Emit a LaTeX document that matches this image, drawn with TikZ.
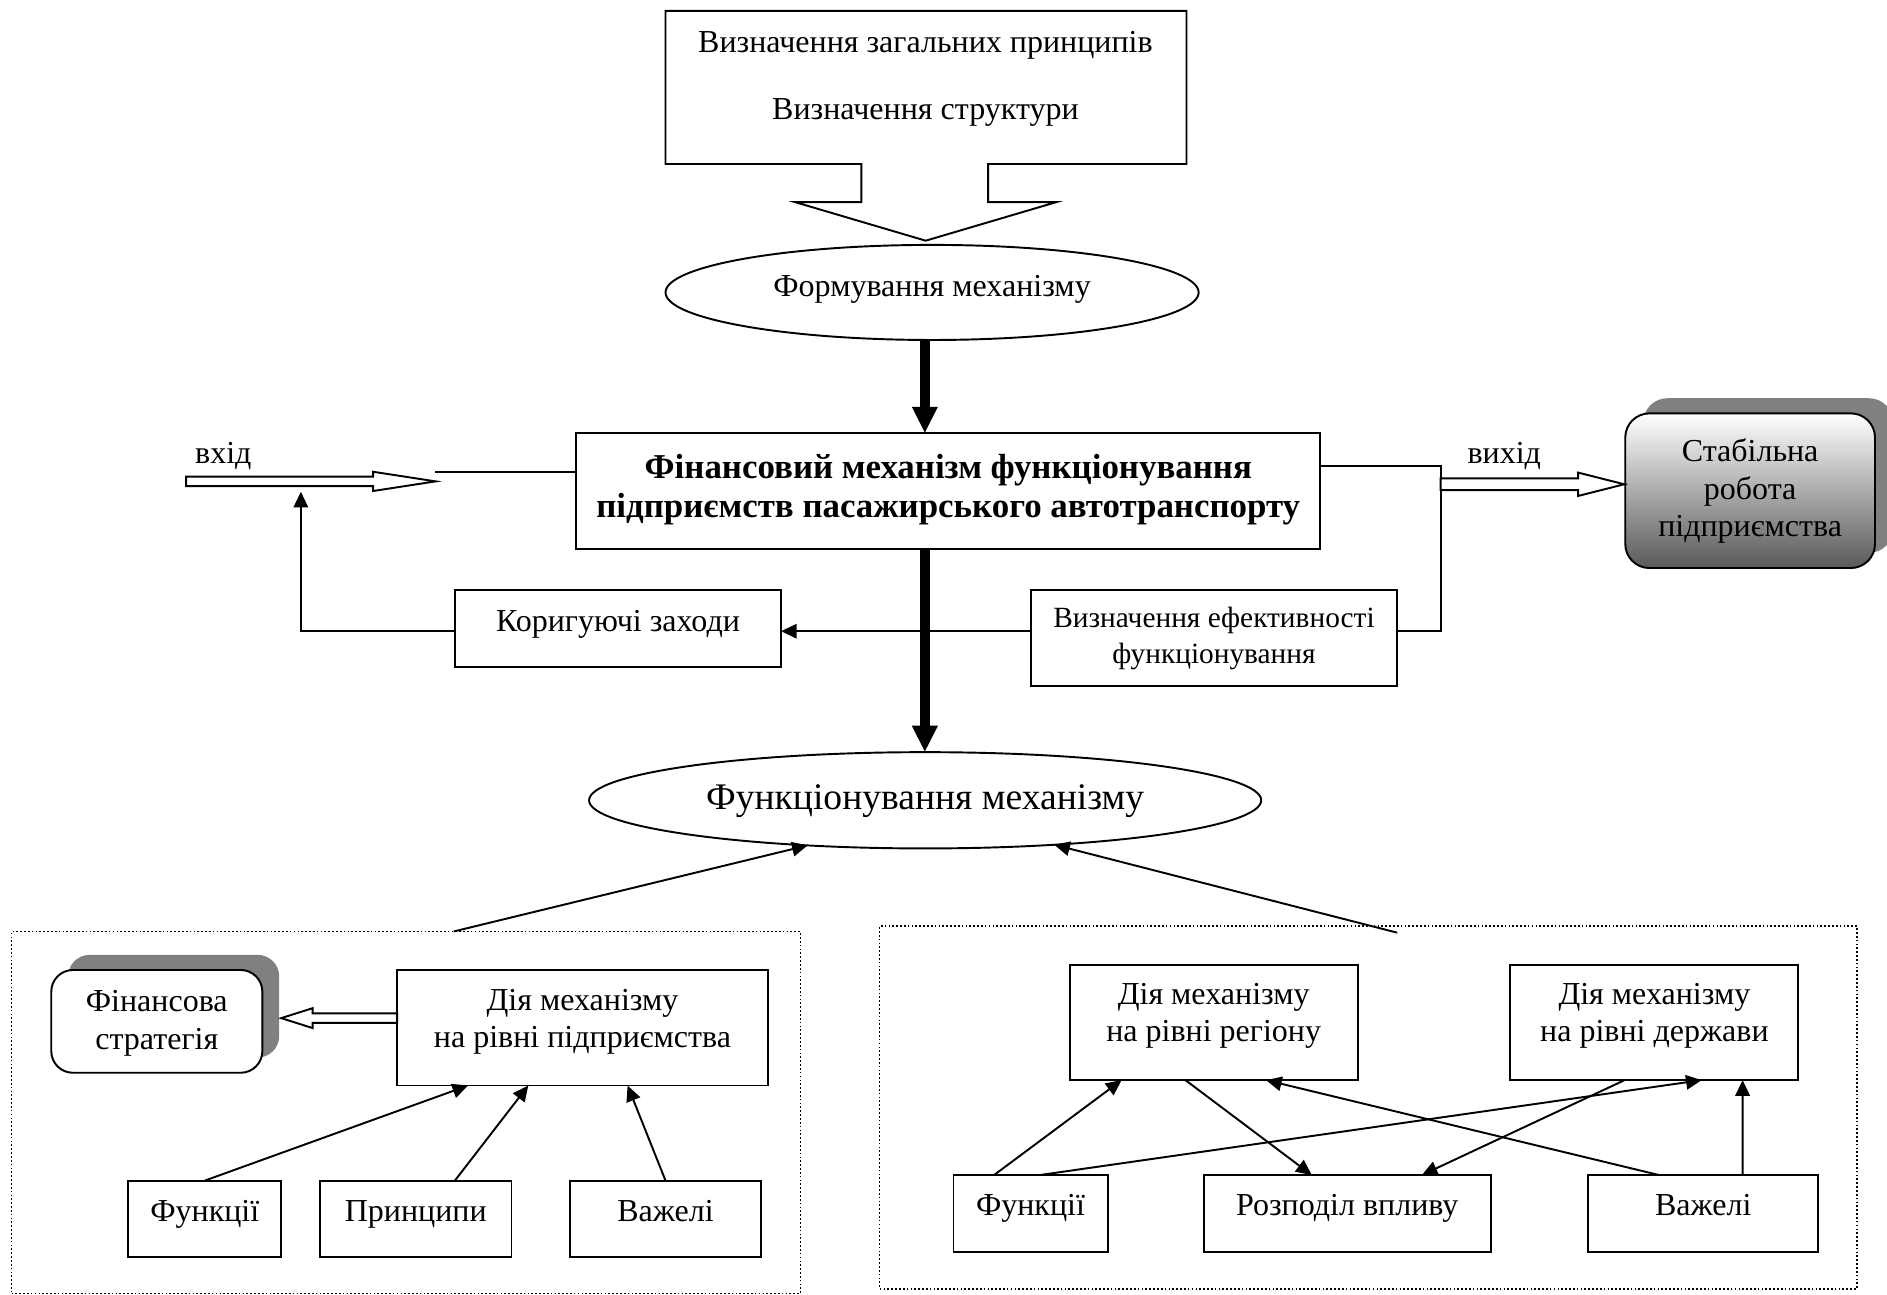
\documentclass[tikz,border=0pt]{standalone}
\usepackage{fontspec}
\setmainfont{Liberation Serif}
\usetikzlibrary{arrows.meta,shapes.geometric,shadows,calc}

\newcommand\tb[2]{\raisebox{#1}[0pt][0pt]{\begin{tabular}{@{}c@{}}#2\end{tabular}}}

\tikzset{
  box/.style={draw, line width=0.8pt, rectangle, inner sep=0pt, outer sep=0pt},
  oval/.style={draw, line width=0.8pt, ellipse, inner sep=0pt, outer sep=0pt},
  frame/.style={draw, line width=0.6pt, dash pattern=on 0.7pt off 0.9pt, inner sep=0pt, outer sep=0pt},
  arr/.style={line width=0.8pt, -{Triangle[length=6.5pt,width=6pt]}},
  bigarr/.style={line width=4pt, -{Triangle[length=11pt,width=10pt]}},
  hollow/.style={draw, line width=0.8pt, fill=white, line join=miter},
  fnt/.style={font=\fontsize{13.3}{15.5}\selectfont},
  shad/.style={drop shadow={shadow xshift=#1, shadow yshift=6.3pt, fill=black!50, opacity=1}},
}

\begin{document}
\begin{tikzpicture}[x=0.5pt,y=-0.5pt]
\useasboundingbox (0,0) rectangle (1568,1076);
\fill[white] (0,0) rectangle (1568,1076);

% top callout
\draw[line width=0.8pt, line join=miter] (553,9) -- (985.9,9) -- (985.9,136.3) -- (821,136.3) -- (821,168) -- (877.6,168) -- (769.2,200) -- (660.8,168) -- (715.8,168) -- (715.8,136.3) -- (553,136.3) -- cycle;
\node[fnt, inner sep=0pt] (top) at (769,63.5) {\tb{-4.5pt}{Визначення загальних принципів\\[12pt]Визначення структури}};

\node[oval, fnt, minimum width=221.5pt, minimum height=39.5pt] (ell1) at (774.5,243) {\tb{-2pt}{Формування механізму}};

\node[box, font=\fontsize{14.5}{16.5}\selectfont\bfseries, minimum width=309pt, minimum height=48pt] (main) at (788,408) {\tb{-3.25pt}{Фінансовий механізм функціонування\\підприємств пасажирського автотранспорту}};

\node[box, fnt, minimum width=135.5pt, minimum height=32pt] (korr) at (513.5,522) {\tb{-2pt}{Коригуючі заходи}};
\node[box, font=\fontsize{12.2}{15}\selectfont, minimum width=151.75pt, minimum height=40pt] (vyzn) at (1008.75,530) {\tb{-3pt}{Визначення ефективності\\функціонування}};

\node[draw, line width=0.8pt, rounded corners=10pt, inner sep=0pt, top color=white, bottom color=black!65, shad=7.5pt, fnt, minimum width=103.75pt, minimum height=64.25pt] (stab) at (1454.25,407.75) {\tb{-4pt}{Стабільна\\робота\\підприємства}};

\node[oval, font=\fontsize{15.6}{18}\selectfont, minimum width=279.25pt, minimum height=40pt] (ell2) at (768.75,665) {\tb{-3.8pt}{Функціонування механізму}};

\node[frame, minimum width=327.7pt, minimum height=150.5pt] (lf) at (337.3,924.5) {};
\node[frame, minimum width=406pt, minimum height=150.75pt] (rf) at (1137,920.25) {};

% left group
\node[box, fnt, fill=white, rounded corners=9pt, shad=7pt, minimum width=87.7pt, minimum height=42.7pt] (fin) at (130.3,848.7) {\tb{-4.25pt}{Фінансова\\стратегія}};
\node[box, fnt, minimum width=154pt, minimum height=48pt] (diyap) at (484,854) {\tb{-1pt}{Дія механізму\\на рівні підприємства}};
\node[box, fnt, minimum width=63.65pt, minimum height=31.9pt] (funkl) at (170.2,1012.9) {\tb{-1.6pt}{Функції}};
\node[box, fnt, minimum width=79.5pt, minimum height=31.9pt] (pryn) at (345.5,1012.9) {\tb{-1.6pt}{Принципи}};
\node[box, fnt, minimum width=79.35pt, minimum height=31.9pt] (vazhl) at (553,1012.9) {\tb{-1.6pt}{Важелі}};

% right group
\node[box, fnt, minimum width=119.7pt, minimum height=47.8pt] (diyar) at (1008.5,849.7) {\tb{-0.65pt}{Дія механізму\\на рівні регіону}};
\node[box, fnt, minimum width=119.7pt, minimum height=47.8pt] (diyad) at (1374.7,849.7) {\tb{-0.65pt}{Дія механізму\\на рівні держави}};
\node[box, fnt, minimum width=64pt, minimum height=31.8pt] (funkr) at (856.3,1008.2) {\tb{-1.25pt}{Функції}};
\node[box, fnt, minimum width=119.2pt, minimum height=31.8pt] (rozp) at (1119.5,1008.2) {\tb{-1.25pt}{Розподіл впливу}};
\node[box, fnt, minimum width=95.45pt, minimum height=31.8pt] (vazhr) at (1415.3,1008.2) {\tb{-1.25pt}{Важелі}};

% labels
\node[fnt] (vhid) at (185.6,378.5) {вхід};
\node[fnt] (vyhid) at (1250,379) {вихід};

% input
\coordinate (inS) at (154.6,400);
\coordinate (inT) at (362,400);
\draw[hollow] ($(inS)+(0,-4)$) -- ($(inT)+(-52,-4)$) -- ($(inT)+(-52,-8)$) -- (inT) -- ($(inT)+(-52,8)$) -- ($(inT)+(-52,4)$) -- ($(inS)+(0,4)$) -- cycle;
\coordinate (in1) at (361.5,392);
\draw[line width=0.8pt] (in1) -- (in1 -| main.west);

% output
\coordinate (c1) at (1197,387.2);
\coordinate (c2) at (1197,524.5);
\draw[line width=0.8pt] (main.east |- c1) -- (c1) -- (c2) -- (c2 -| vyzn.east);
\coordinate (outS) at (1197,402.4);
\coordinate (outT) at (stab.west |- outS);
\draw[hollow] ($(outS)+(0,-4.85)$) -- ($(outT)+(-38.4,-4.85)$) -- ($(outT)+(-38.4,-9.7)$) -- (outT) -- ($(outT)+(-38.4,9.7)$) -- ($(outT)+(-38.4,4.85)$) -- ($(outS)+(0,4.85)$) -- cycle;

% feedback
\draw[arr] (vyzn.west |- c2) -- (korr.east |- c2);
\coordinate (fb1) at (250,524.5);
\coordinate (fb2) at (250,408.6);
\draw[arr] (korr.west |- c2) -- (fb1) -- (fb2);

% thick arrows
\coordinate (tx) at (768.5,0);
\draw[bigarr] (tx |- ell1.south) -- (tx |- main.north);
\draw[bigarr] (tx |- main.south) -- (tx |- ell2.north);

% into ellipse 2
\draw[arr] ([xshift=19.85pt]lf.north) -- (ell2.201);
\draw[arr] ([xshift=12pt,yshift=-2.75pt]rf.north) -- (ell2.341);

% left group arrows
\draw[arr] (funkl.north) -- ([xshift=-47.5pt]diyap.south);
\draw[arr] ([xshift=16.25pt]pryn.north) -- ([xshift=-22.5pt]diyap.south);
\draw[arr] (vazhl.north) -- ([xshift=18.75pt]diyap.south);
\coordinate (fT) at (233.7,846);
\coordinate (fS) at (diyap.west |- fT);
\draw[hollow] ($(fS)+(0,-4)$) -- ($(fT)+(26,-4)$) -- ($(fT)+(26,-8.25)$) -- (fT) -- ($(fT)+(26,8.25)$) -- ($(fT)+(26,4)$) -- ($(fS)+(0,4)$) -- cycle;

% right group arrows
\draw[arr] ([xshift=-15.15pt]funkr.north) -- ([xshift=-38.25pt]diyar.south);
\draw[arr] ([xshift=3.85pt]funkr.north) -- ([xshift=19.65pt]diyad.south);
\draw[arr] ([xshift=-11.75pt]diyar.south) -- ([xshift=-14.75pt]rozp.north);
\draw[arr] ([xshift=-12.35pt]diyad.south) -- ([xshift=31pt]rozp.north);
\draw[arr] ([xshift=-18.35pt]vazhr.north) -- ([xshift=21.75pt]diyar.south);
\draw[arr] ([xshift=16.35pt]vazhr.north) -- ([xshift=36.65pt]diyad.south);
\end{tikzpicture}
\end{document}
